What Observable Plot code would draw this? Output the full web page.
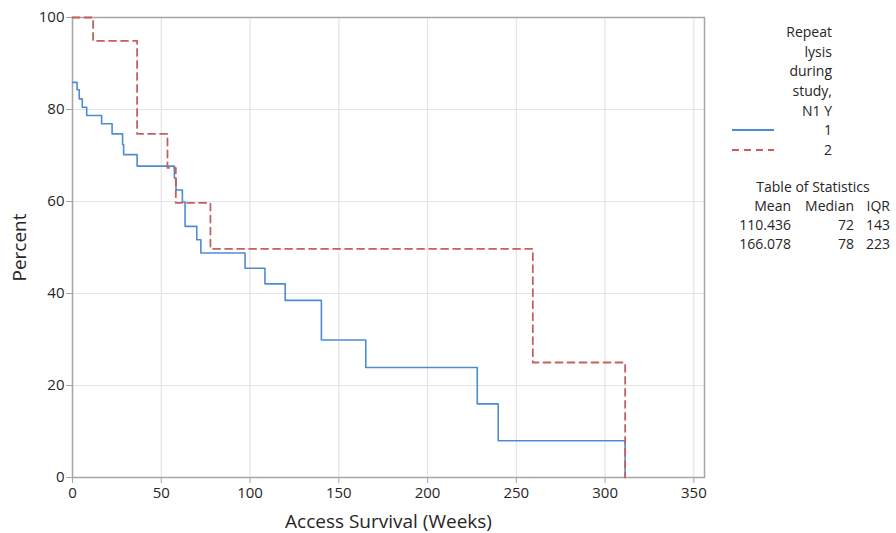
<!DOCTYPE html>
<html>
<head>
<meta charset="utf-8">
<script src="https://cdn.jsdelivr.net/npm/d3@7"></script>
<script src="https://cdn.jsdelivr.net/npm/@observablehq/plot@0.6"></script>
<style>
  html, body { margin: 0; padding: 0; background: #fff; }
  #wrap { position: relative; width: 896px; height: 533px; font-family: "Open Sans", "Segoe UI", sans-serif; color: #262626; }
  #chart svg { display: block; }
  #chart svg [aria-label="x-axis label"] text,
  #chart svg [aria-label="y-axis label"] text { font-size: 19px; }
  .lg { position: absolute; font-size: 14px; line-height: 16px; white-space: nowrap; }
  .r { transform: translate(-100%, -50%); text-align: right; }
  .c { transform: translate(-50%, -50%); text-align: center; }
</style>
</head>
<body>
<div id="wrap">
  <div id="chart"></div>
  <div id="legend"></div>
</div>
<script>
// ---- data ----
const group1Weeks   = [0, 2.6, 3.8, 5.5, 8, 16.4, 22.3, 28.2, 28.8, 36.4, 57.4, 58.3, 61.9, 63.4, 70, 72.3, 97.2, 108.4, 119.8, 140.2, 165.2, 228, 239.8, 311.3];
const group1Percent = [85.9, 84.3, 82.3, 80.5, 78.7, 76.9, 74.7, 72.4, 70.2, 67.7, 65.1, 62.5, 59.9, 54.6, 51.7, 48.8, 45.5, 42.1, 38.5, 29.9, 23.9, 16.0, 8.0, 0];
const group2Weeks   = [0, 11.6, 36.4, 53.5, 58.2, 77.7, 259.3, 311.3];
const group2Percent = [100, 94.9, 74.7, 67.3, 59.7, 49.7, 25.0, 0];
const xTicks = [0, 50, 100, 150, 200, 250, 300, 350];
const yTicks = [0, 20, 40, 60, 80, 100];
const legendTitleLines = ["Repeat", "lysis", "during", "study,", "N1 Y"];
const groupNames = ["1", "2"];
const statsTitle = "Table of Statistics";
const statsHeader = ["Mean", "Median", "IQR"];
const statsMean = ["110.436", "166.078"];
const statsMedian = ["72", "78"];
const statsIQR = ["143", "223"];

const blue = "#4f8bd3";
const red = "#c4605f";

const g1 = group1Weeks.map((w, i) => ({ w, p: group1Percent[i] }));
const g2 = group2Weeks.map((w, i) => ({ w, p: group2Percent[i] }));

const plot = Plot.plot({
  width: 896,
  height: 533,
  marginLeft: 72,
  marginRight: 192,
  marginTop: 17,
  marginBottom: 56,
  style: { fontFamily: "'Open Sans', 'Segoe UI', sans-serif", fontSize: "15px", color: "#262626", background: "#fff" },
  x: { domain: [0, 356] },
  y: { domain: [0, 100] },
  marks: [
    Plot.gridX(xTicks, { stroke: "#e4e4e4", strokeOpacity: 1, strokeWidth: 1.2 }),
    Plot.gridY(yTicks, { stroke: "#e4e4e4", strokeOpacity: 1, strokeWidth: 1.2 }),
    Plot.frame({ stroke: "#a6a6a6", strokeWidth: 1.5 }),
    Plot.axisX({ ticks: xTicks, tickSize: 6, tickPadding: 4, stroke: "#a6a6a6", label: "Access Survival (Weeks)", labelArrow: "none", labelAnchor: "center", labelOffset: 50 }),
    Plot.axisY({ ticks: yTicks, tickSize: 6, tickPadding: 2, stroke: "#a6a6a6", label: "Percent", labelArrow: "none", labelAnchor: "center", labelOffset: 60 }),
    Plot.line(g1, { x: "w", y: "p", curve: "step-after", stroke: blue, strokeWidth: 1.6 }),
    Plot.line(g2, { x: "w", y: "p", curve: "step-after", stroke: red, strokeWidth: 1.8, strokeDasharray: "7,5" })
  ]
});
document.getElementById("chart").appendChild(plot);

// ---- legend (HTML overlay) ----
const L = document.getElementById("legend");
function txt(s, x, y, cls) {
  const d = document.createElement("div");
  d.className = "lg " + cls;
  d.style.left = x + "px";
  d.style.top = y + "px";
  d.textContent = s;
  L.appendChild(d);
}
legendTitleLines.forEach((s, i) => txt(s, 832, 32 + i * 19.7, "r"));
groupNames.forEach((s, i) => txt(s, 832, 130 + i * 20, "r"));
const sw = document.createElementNS("http://www.w3.org/2000/svg", "svg");
sw.setAttribute("width", 896); sw.setAttribute("height", 533);
sw.style.position = "absolute"; sw.style.left = "0"; sw.style.top = "0"; sw.style.pointerEvents = "none";
[[blue, null, 130], [red, "7,5", 150]].forEach(([c, dash, y]) => {
  const ln = document.createElementNS("http://www.w3.org/2000/svg", "line");
  ln.setAttribute("x1", 732); ln.setAttribute("x2", 774);
  ln.setAttribute("y1", y); ln.setAttribute("y2", y);
  ln.setAttribute("stroke", c); ln.setAttribute("stroke-width", 1.8);
  if (dash) ln.setAttribute("stroke-dasharray", dash);
  sw.appendChild(ln);
});
L.appendChild(sw);
txt(statsTitle, 813, 187, "c");
const colRight = [791, 854, 890];
statsHeader.forEach((s, i) => txt(s, colRight[i], 206, "r"));
[statsMean, statsMedian, statsIQR].forEach((col, i) => col.forEach((s, j) => txt(s, colRight[i], 225 + j * 19, "r")));
</script>
</body>
</html>
